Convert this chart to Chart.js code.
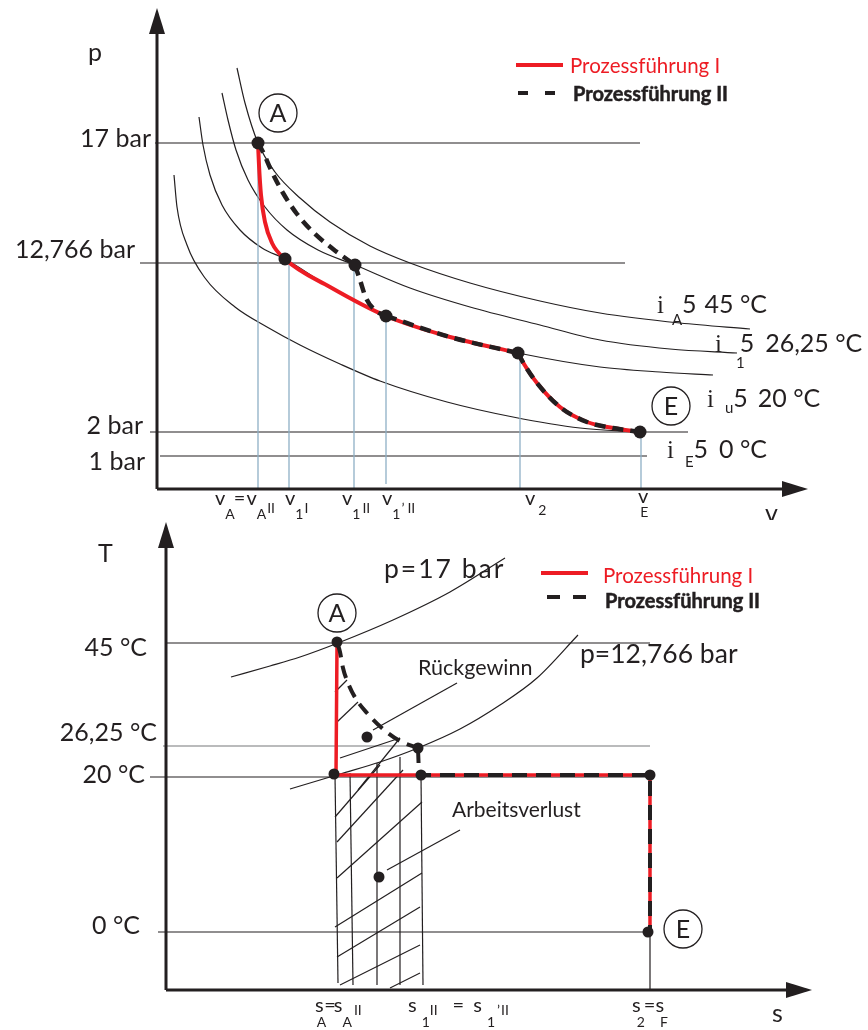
<!DOCTYPE html>
<html><head><meta charset="utf-8">
<script src="https://cdn.jsdelivr.net/npm/chart.js@4.4.1/dist/chart.umd.min.js"></script>
<style>html,body{margin:0;padding:0;background:#fff}canvas{display:block}</style>
</head><body>
<canvas id="pv" width="868" height="520"></canvas>
<canvas id="ts" width="868" height="510"></canvas>
<script>
// ================= p-v diagram (schematic units) =================
const pvLevelLabels = ['17 bar', '12,766 bar', '2 bar', '1 bar'];
const pvLevelY      = [34.6, 22.6, 5.7, 3.3];
const pvLevelFrom   = [-0.2, -1.7, -0.7, 0.3];
const pvLevelTo     = [48.3, 46.8, 53.1, 49.0];

const isoA45   = [[8.0,42.1],[8.8,38.6],[10.1,34.6],[11.8,31.7],[14.3,29.1],[17.3,26.7],[21.3,24.3],[25.3,22.6],[31.3,20.6],[38.3,18.8],[44.3,17.6],[52.3,16.6],[59.3,16.0]];
const iso1_26  = [[6.5,39.6],[7.1,36.9],[7.9,33.9],[9.1,30.9],[10.8,28.2],[13.0,25.9],[16.1,23.9],[19.8,22.4],[25.3,20.1],[31.3,18.2],[38.3,16.4],[44.3,14.9],[51.3,14.0],[58.0,13.6]];
const isoU20   = [[4.2,37.2],[4.6,34.4],[5.3,31.4],[6.5,28.4],[8.3,25.9],[10.5,24.1],[12.8,23.0],[17.3,20.2],[22.9,17.3],[29.3,15.2],[36.1,13.6],[44.3,12.2],[50.3,11.7],[55.6,11.4]];
const isoE0    = [[1.7,31.4],[2.0,28.2],[3.0,24.4],[4.8,21.1],[7.8,18.2],[11.0,16.2],[14.3,14.4],[18.3,12.5],[22.3,10.8],[29.0,8.7],[35.6,7.2],[42.3,6.1],[48.3,5.7]];

const pvProcI_a  = [[10.1,34.6],[10.2,32.4],[10.4,29.4],[10.8,26.7],[11.5,24.6],[12.8,23.0],[17.3,20.2],[22.9,17.3],[29.3,15.2],[36.1,13.6]];
const pvProcI_b  = [[36.1,13.6],[36.7,12.5],[38.0,10.6],[40.3,8.2],[43.0,6.7],[45.6,6.1],[48.3,5.7]];
const pvProcII_a = [[10.1,34.6],[10.6,33.7],[11.4,31.9],[12.6,29.6],[14.0,27.5],[15.7,25.6],[17.6,24.0],[19.8,22.4]];
const pvProcII_b = [[19.8,22.4],[20.3,20.9],[20.9,19.1],[21.9,17.8],[22.9,17.3]];
const pvProcII_c = [[22.9,17.3],[29.3,15.2],[36.1,13.6]];
const pvProcII_d = pvProcI_b;

const pvStatePoints = [[10.1,34.6],[12.8,23.0],[19.8,22.4],[22.9,17.3],[36.1,13.6],[48.3,5.7]];
const pvDropX   = [10.1, 13.2, 19.7, 22.9, 36.3, 48.4];
const pvDropTop = [34.6, 22.6, 22.4, 17.3, 13.6, 5.7];
const pvDropBot = [0, 0, 0, 0.5, 0, 0];
const pvMarkerNames = ['A', 'E'];
const pvMarkerPos   = [[12.1,37.6],[51.4,8.3]];

const pvTickPos = [5.8, 12.8, 18.5, 22.5, 36.8, 48.1];
const pvTickParts = [
  [['v','m'],['A','s'],['=','m',-1],['v','m',1],['A','s'],['II','u',1]],
  [['v','m'],['1','s'],['I','u',1]],
  [['v','m'],['1','s'],['II','u',2]],
  [['v','m'],['1','s'],['’','u',1],['II','u',3]],
  [['v','m'],['2','s',3,10]],
  [['v','m'],['E','s',-8]]
];
const pvIsoLabelPos = [[50.0,17.6],[55.8,13.7],[55.0,8.2],[51.0,3.1]];
const pvIsoLabelParts = [
  [['i','i'],['A','s',8,12],['5','m'],['45 °C','m',8]],
  [['i','i'],['1','s',14,16],['5','m',-5],['26,25 °C','m',11]],
  [['i','i'],['u','s',11,6],['5','m'],['20 °C','m',10]],
  [['i','i'],['E','s',11,9],['5','m'],['0 °C','m',11]]
];

// ================= T-s diagram (schematic units) =================
const tsLevelLabels = ['45 °C', '26,25 °C', '20 °C', '0 °C'];
const tsLevelY      = [34.7, 24.4, 21.3, 5.8];
const tsLevelFrom   = [0, -0.3, -1.6, -0.8];
const tsLevelTo     = [48.4, 48.4, 48.4, 48.4];
const tsLevelLabelY = [33.4, 24.9, 20.7, 5.6];
const tsLevelLabelX = [-1.9, -0.9, -2.1, -2.6];

const isobar17    = [[6.5,31.3],[10.4,32.4],[13.4,33.3],[17.2,34.7],[22.7,37.0],[28.4,39.8],[33.9,43.2]];
const isobar12766 = [[12.4,20.1],[13.4,20.4],[17.4,21.6],[21.4,22.8],[25.2,24.2],[29.4,26.1],[33.4,28.5],[37.1,31.2],[41.2,35.5]];

const tsProcI    = [[17.1,34.5],[17.0,21.5],[48.4,21.5],[48.4,5.8]];
const tsProcII_a = [[17.2,34.5],[17.4,33.8],[17.7,32.2],[18.2,30.7],[19.0,29.1],[20.1,27.7],[21.7,26.1],[23.4,24.9],[25.2,24.2]];
const tsProcII_b = [[25.2,24.2],[25.3,21.5],[48.4,21.5],[48.4,5.8]];
const tsStatePoints = [[17.1,34.8],[16.8,21.6],[20.1,25.3],[25.2,24.2],[25.5,21.5],[48.4,21.5],[48.2,5.8],[21.3,11.3]];
const tsMarkerNames = ['A', 'E'];
const tsMarkerPos   = [[17.1,37.7],[51.7,6.1]];

const tsHatch = [
  [[16.9,21.5],[17.2,0.7]], [[18.4,21.7],[18.7,0.5]], [[21.1,22.7],[21.1,0.5]], [[23.4,23.3],[23.4,0.5]], [[25.5,21.5],[25.7,0.5]],
  [[16.9,17.3],[21.4,22.5]], [[17.1,14.8],[23.7,22.0]], [[17.1,11.2],[25.6,18.8]], [[16.9,6.3],[25.6,11.7]],
  [[17.1,3.3],[25.4,8.3]], [[17.4,0.5],[25.4,4.5]], [[22.4,0.2],[25.4,1.7]],
  [[16.9,29.8],[18.1,31.0]], [[17.1,26.8],[19.2,28.8]], [[17.4,23.2],[23.4,25.2]], [[19.2,20.0],[23.4,25.2]]
];
const tsLeaders = [[[29.1,30.7],[20.7,26.0]], [[29.4,16.0],[22.1,12.0]]];

const tsTickPos = [14.9, 24.2, 46.6];
const tsTickParts = [
  [['s','m'],['A','s',-7],['=','m',-2],['s','m',-2],['A','s'],['II','u',2,3]],
  [['s','m'],['1','s',5],['II','u',0,3],['=','m',15],['s','m',9],['1','s',5],['’','u',2,3],['II','u',1,3]],
  [['s','m'],['2','s',-4],['=','m',-1],['s','m'],['F','s',-4]]
];

// ================= drawing helpers =================
const BLACK = '#231f20', RED = '#ed1c24', BLUE = '#8fb0c6', GRAY = '#77787b';
const FONT  = 'Lato, "Open Sans", sans-serif';
const SERIF = '"Liberation Serif", "DejaVu Serif", serif';

const pts = a => a.map(p => ({x: p[0], y: p[1]}));
function L(a, color, width, extra) {
  return Object.assign({type: 'scatter', data: pts(a), showLine: true, borderColor: color, borderWidth: width,
    pointRadius: 0, pointHoverRadius: 0, tension: 0, clip: false, fill: false, borderCapStyle: 'butt'}, extra || {});
}
const SMOOTH = {cubicInterpolationMode: 'monotone'};
function P(a, r, extra) {
  return Object.assign({type: 'scatter', data: pts(a), showLine: false, pointRadius: r, pointHoverRadius: r,
    pointBackgroundColor: BLACK, pointBorderColor: BLACK, pointBorderWidth: 0, clip: false}, extra || {});
}
function arrowImg() {
  const c = document.createElement('canvas'); c.width = 16; c.height = 26;
  const g = c.getContext('2d'); g.fillStyle = BLACK; g.beginPath();
  g.moveTo(8, 0); g.lineTo(16, 26); g.lineTo(0, 26); g.closePath(); g.fill(); return c;
}
const ARROW = arrowImg();
function arrowDs(x, y, rot) {
  return P([[x, y]], 13, {pointStyle: ARROW, pointRotation: rot});
}
function circles(pos) {
  return P(pos, 19, {pointBackgroundColor: 'rgba(255,255,255,0)', pointBorderColor: BLACK, pointBorderWidth: 1.3});
}
// painter's order: first pushed = bottom-most (Chart.js draws index 0 on top, so reverse)
const painter = list => list.slice().reverse();

function drawRuns(ctx, parts, px, py, cfg) {
  let cx = px;
  for (const [t, role, dx = 0, dy] of parts) {
    let size = cfg.main, fam = FONT, off = 0;
    if (role === 's') { size = cfg.sub; off = cfg.subOff; }
    if (role === 'u') { size = cfg.sub; off = cfg.upOff; }
    if (role === 'i') { fam = SERIF; }
    if (dy !== undefined) off = dy;
    ctx.font = `${size}px ${fam}`;
    cx += dx;
    ctx.fillText(t, cx, py + off);
    cx += ctx.measureText(t).width;
  }
}
function txt(ctx, t, px, py, size, align, opt) {
  opt = opt || {};
  ctx.font = `${opt.weight || 'normal'} ${size}px ${opt.family || FONT}`;
  ctx.textAlign = align; ctx.textBaseline = opt.baseline || 'alphabetic';
  ctx.fillStyle = opt.color || BLACK;
  if (opt.spacing && 'letterSpacing' in ctx) ctx.letterSpacing = opt.spacing;
  ctx.fillText(t, px, py);
  if (opt.stroke) { ctx.strokeStyle = opt.color || BLACK; ctx.lineWidth = opt.stroke; ctx.strokeText(t, px, py); }
  if ('letterSpacing' in ctx) ctx.letterSpacing = '0px';
  ctx.textAlign = 'left'; ctx.textBaseline = 'alphabetic';
}

function baseOptions(pad, xmax, ymax) {
  return {responsive: false, animation: false, events: [], devicePixelRatio: 1,
    layout: {padding: pad, autoPadding: false},
    plugins: {legend: {display: false}, tooltip: {enabled: false}},
    scales: {x: {type: 'linear', min: 0, max: xmax, display: false},
             y: {type: 'linear', min: 0, max: ymax, display: false}}};
}

// ================= p-v chart =================
const pvDatasets = [];
pvLevelY.forEach((y, i) => pvDatasets.push(L([[pvLevelFrom[i], y], [pvLevelTo[i], y]], BLACK, 1.1)));
[isoA45, iso1_26, isoU20, isoE0].forEach(c => pvDatasets.push(L(c, BLACK, 1.2, SMOOTH)));
pvDropX.forEach((x, i) => pvDatasets.push(L([[x, pvDropTop[i]], [x, pvDropBot[i]]], BLUE, 1.3)));
pvDatasets.push(L([[0,0],[0,46.0]], BLACK, 3));
pvDatasets.push(L([[0,0],[63.0,0]], BLACK, 3));
pvDatasets.push(arrowDs(0, 46.8, 0));
pvDatasets.push(arrowDs(63.8, 0, 90));
pvDatasets.push(L(pvProcI_a, RED, 4, SMOOTH));
pvDatasets.push(L(pvProcI_b, RED, 4, SMOOTH));
const DASH1 = {borderDash: [11, 7]};
[pvProcII_a, pvProcII_b, pvProcII_c, pvProcII_d].forEach(c => pvDatasets.push(L(c, BLACK, 4.5, Object.assign({}, SMOOTH, DASH1))));
pvDatasets.push(P(pvStatePoints, 6.5));
pvDatasets.push(circles(pvMarkerPos));
// legend samples
pvDatasets.push(L([[35.9,42.4],[40.6,42.4]], RED, 4));
pvDatasets.push(L([[36.1,39.6],[39.8,39.6]], BLACK, 4, {borderDash: [10, 17]}));

const pvText = {
  id: 'pvText',
  afterDatasetsDraw(chart) {
    const ctx = chart.ctx, X = v => chart.scales.x.getPixelForValue(v), Y = v => chart.scales.y.getPixelForValue(v);
    ctx.save();
    txt(ctx, 'p', X(-6.9), Y(42.8), 25, 'left');
    pvLevelLabels.forEach((t, i) => {
      const lx = [-0.6, -2.2, -1.4, -1.2][i], ly = [34.2, 23.1, 5.5, 1.9][i];
      txt(ctx, t, X(lx), Y(ly), 25, 'right');
    });
    txt(ctx, 'v', X(60.8), Y(-3.3), 25, 'left');
    ctx.fillStyle = BLACK;
    pvTickParts.forEach((parts, i) => drawRuns(ctx, parts, X(pvTickPos[i]), Y(i === 5 ? -1.4 : -1.6), {main: 20, sub: 14, subOff: 14, upOff: 8}));
    pvIsoLabelParts.forEach((parts, i) => drawRuns(ctx, parts, X(pvIsoLabelPos[i][0]), Y(pvIsoLabelPos[i][1]), {main: 25, sub: 15, subOff: 12, upOff: 8}));
    pvMarkerNames.forEach((t, i) => txt(ctx, t, X(pvMarkerPos[i][0]), Y(pvMarkerPos[i][1]) + 1, 25, 'center', {baseline: 'middle'}));
    txt(ctx, 'Prozessführung I', X(41.3), Y(42.3), 20.5, 'left', {baseline: 'middle', color: RED});
    txt(ctx, 'Prozessführung II', X(41.6), Y(39.4), 20, 'left', {baseline: 'middle', weight: 'bold', stroke: 0.5});
    ctx.restore();
  }
};

new Chart(document.getElementById('pv'), {
  type: 'scatter',
  data: {datasets: painter(pvDatasets)},
  options: baseOptions({left: 157, right: 61, top: 9, bottom: 31}, 65, 48),
  plugins: [pvText]
});

// ================= T-s chart =================
const tsDatasets = [];
tsLevelY.forEach((y, i) => tsDatasets.push(L([[tsLevelFrom[i], y], [tsLevelTo[i], y]], i === 1 ? GRAY : BLACK, 1.1)));
tsDatasets.push(L([[48.4,5.8],[48.4,0]], BLACK, 1.2));
tsDatasets.push(L(isobar17, BLACK, 1.2, SMOOTH));
tsDatasets.push(L(isobar12766, BLACK, 1.2, SMOOTH));
tsHatch.forEach(h => tsDatasets.push(L(h, BLACK, 1.2)));
tsLeaders.forEach(h => tsDatasets.push(L(h, BLACK, 1.2)));
tsDatasets.push(L([[0,0],[0,44.8]], BLACK, 3));
tsDatasets.push(L([[0,0],[62.6,0]], BLACK, 3));
tsDatasets.push(arrowDs(0, 45.5, 0));
tsDatasets.push(arrowDs(63.3, 0, 90));
tsDatasets.push(L(tsProcI, RED, 3.5));
const DASH2 = {borderDash: [15, 9]};
tsDatasets.push(L(tsProcII_a, BLACK, 4, Object.assign({}, SMOOTH, {borderDash: [13, 8]})));
tsDatasets.push(L(tsProcII_b, BLACK, 4, DASH2));
tsDatasets.push(P(tsStatePoints, 5.5));
tsDatasets.push(circles(tsMarkerPos));
tsDatasets.push(L([[37.5,41.7],[42.2,41.7]], RED, 4));
tsDatasets.push(L([[38.1,39.3],[42.0,39.3]], BLACK, 4, {borderDash: [13, 13]}));

const tsText = {
  id: 'tsText',
  afterDatasetsDraw(chart) {
    const ctx = chart.ctx, X = v => chart.scales.x.getPixelForValue(v), Y = v => chart.scales.y.getPixelForValue(v);
    ctx.save();
    txt(ctx, 'T', X(-6.8), Y(42.8), 25, 'left');
    tsLevelLabels.forEach((t, i) => txt(ctx, t, X(tsLevelLabelX[i]), Y(tsLevelLabelY[i]), 25, 'right'));
    txt(ctx, 's', X(60.6), Y(-3.2), 25, 'left');
    ctx.fillStyle = BLACK;
    tsTickParts.forEach((parts, i) => drawRuns(ctx, parts, X(tsTickPos[i]), Y(-2.2), {main: 20, sub: 14, subOff: 15, upOff: 7}));
    txt(ctx, 'p=17 bar', X(21.8), Y(41.2), 26.5, 'left', {spacing: '2px'});
    txt(ctx, 'p=12,766 bar', X(41.4), Y(32.7), 26.5, 'left');
    txt(ctx, 'Rückgewinn', X(25.2), Y(31.5), 21.5, 'left');
    txt(ctx, 'Arbeitsverlust', X(28.6), Y(17.3), 21, 'left');
    tsMarkerNames.forEach((t, i) => txt(ctx, t, X(tsMarkerPos[i][0]), Y(tsMarkerPos[i][1]) + 1, 25, 'center', {baseline: 'middle'}));
    txt(ctx, 'Prozessführung I', X(43.7), Y(41.4), 20.5, 'left', {baseline: 'middle', color: RED});
    txt(ctx, 'Prozessführung II', X(43.9), Y(38.8), 20, 'left', {baseline: 'middle', weight: 'bold', stroke: 0.5});
    ctx.restore();
  }
};

new Chart(document.getElementById('ts'), {
  type: 'scatter',
  data: {datasets: painter(tsDatasets)},
  options: baseOptions({left: 166, right: 52, top: 10, bottom: 40}, 65, 46),
  plugins: [tsText]
});
</script>
</body></html>
